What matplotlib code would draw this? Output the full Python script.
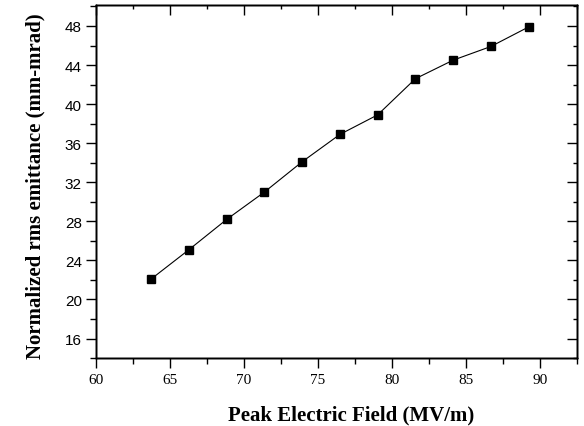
import matplotlib
matplotlib.use("Agg")
import matplotlib.pyplot as plt
from matplotlib.ticker import MultipleLocator

# peak field (MV/m) vs normalized rms emittance (mm-mrad)
peak_field = [63.75, 66.3, 68.85, 71.4, 73.95, 76.5, 79.05, 81.6, 84.15, 86.7, 89.25]
emittance = [22.1, 25.1, 28.2, 31.0, 34.1, 36.9, 38.9, 42.6, 44.5, 45.9, 47.9]

x_ticks = [60, 65, 70, 75, 80, 85, 90]
y_ticks = [16, 20, 24, 28, 32, 36, 40, 44, 48]

SERIF = "Liberation Serif"
SANS = "Liberation Sans"

fig = plt.figure(figsize=(5.84, 4.27), dpi=100)
ax = fig.add_axes([0.1639, 0.159, 0.8236, 0.827])

ax.plot(peak_field, emittance, color="black", lw=0.8, marker="s",
        markersize=6, markerfacecolor="black", markeredgecolor="black")

XLIM = (60, 92.5)
YLIM = (14.0, 50.15)
ax.set_xlim(*XLIM)
ax.set_ylim(*YLIM)
ax.set_xticks(x_ticks, [str(t) for t in x_ticks], fontfamily=SERIF, fontsize=11)
ax.set_yticks(y_ticks, [str(t) for t in y_ticks], fontfamily=SANS, fontsize=11)
ax.xaxis.set_minor_locator(MultipleLocator(2.5))
ax.yaxis.set_minor_locator(MultipleLocator(2))

# left/bottom ticks point out
ax.tick_params(axis="both", which="both", direction="out", width=1.0)
ax.tick_params(axis="x", which="major", length=7, pad=4)
ax.tick_params(axis="y", which="major", length=7, pad=3)
ax.tick_params(which="minor", length=4)

# inward ticks on top and right
ax2 = ax.twinx()
ax2.set_ylim(*YLIM)
ax2.yaxis.set_major_locator(MultipleLocator(4))
ax2.yaxis.set_minor_locator(MultipleLocator(2))
ax2.tick_params(axis="y", which="both", direction="in", labelright=False, width=1.0)
ax2.tick_params(which="major", length=7)
ax2.tick_params(which="minor", length=3)
ax3 = ax.twiny()
ax3.set_xlim(*XLIM)
ax3.xaxis.set_major_locator(MultipleLocator(5))
ax3.xaxis.set_minor_locator(MultipleLocator(2.5))
ax3.tick_params(axis="x", which="both", direction="in", labeltop=False, width=1.0)
ax3.tick_params(which="major", length=7)
ax3.tick_params(which="minor", length=3)

for a in (ax, ax2, ax3):
    for sp in a.spines.values():
        sp.set_linewidth(1.0)

ax.set_xlabel("Peak Electric Field (MV/m)", family=SERIF, fontweight="bold",
              fontsize=15, va="center")
ax.xaxis.set_label_coords(0.531, -0.161)
ax.set_ylabel("Normalized rms emittance (mm-mrad)", family=SERIF,
              fontweight="bold", fontsize=15, va="center")
ax.yaxis.set_label_coords(-0.126, 0.49)

fig.savefig("out.png", dpi=100)
